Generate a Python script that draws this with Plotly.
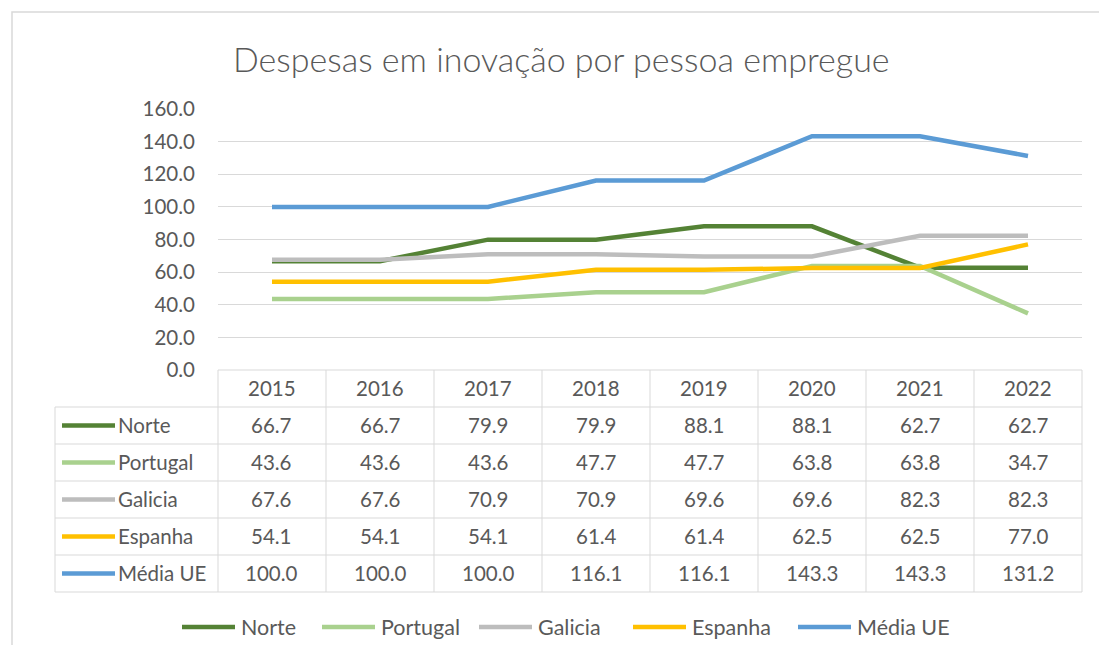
import plotly.graph_objects as go

# Source data: innovation expenditure per employed person
years = ["2015", "2016", "2017", "2018", "2019", "2020", "2021", "2022"]
norte = [66.7, 66.7, 79.9, 79.9, 88.1, 88.1, 62.7, 62.7]
portugal = [43.6, 43.6, 43.6, 47.7, 47.7, 63.8, 63.8, 34.7]
galicia = [67.6, 67.6, 70.9, 70.9, 69.6, 69.6, 82.3, 82.3]
espanha = [54.1, 54.1, 54.1, 61.4, 61.4, 62.5, 62.5, 77.0]
media_ue = [100.0, 100.0, 100.0, 116.1, 116.1, 143.3, 143.3, 131.2]
y_ticks = [0, 20, 40, 60, 80, 100, 120, 140, 160]

series = [
    ("Norte", norte, "#548235"),
    ("Portugal", portugal, "#A9D18E"),
    ("Galicia", galicia, "#BDBDBD"),
    ("Espanha", espanha, "#FFC000"),
    ("Média UE", media_ue, "#5B9BD5"),
]

W, H = 1099, 645
FONT = "Lato"
TXT = "#595959"
GRID = "#D9D9D9"
FS = 20.5

# pixel geometry of the plot area and the data table beneath it
PX_LEFT, PX_RIGHT = 218, 1082          # year columns
PX_LABEL_LEFT = 55                      # start of the series-name column
PX_PLOT_TOP, PX_PLOT_BOTTOM = 109, 370
PX_TABLE_BOTTOM = 592
n = len(years)
col_px = (PX_RIGHT - PX_LEFT) / n
n_rows = len(series) + 1
row_px = (PX_TABLE_BOTTOM - PX_PLOT_BOTTOM) / n_rows

def fx(px):
    return px / W

def fy(px):
    return 1 - px / H

x_idx = list(range(n))
label_left = -0.5 - (PX_LEFT - PX_LABEL_LEFT) / col_px
pad_x, pad_y = 0.06, 0.05
x2_range = [label_left - pad_x, n - 0.5 + pad_x]
x2_dom = [fx(PX_LEFT - (-0.5 - x2_range[0]) * col_px), fx(PX_RIGHT + pad_x * col_px)]
y2_range = [n_rows - 0.5 + pad_y, -0.5 - pad_y]
y2_dom = [fy(PX_TABLE_BOTTOM + pad_y * row_px), fy(PX_PLOT_BOTTOM - pad_y * row_px)]

fig = go.Figure()
for name, vals, color in series:
    fig.add_trace(go.Scatter(
        x=x_idx, y=vals, name=name, mode="lines",
        line=dict(color=color, width=4.5),
        xaxis="x", yaxis="y", showlegend=False,
    ))

shapes = []
annotations = []

# table grid lines
def tline(x0, y0, x1, y1):
    shapes.append(dict(type="line", xref="x2", yref="y2", x0=x0, y0=y0, x1=x1, y1=y1,
                       line=dict(color=GRID, width=1), layer="below"))

tline(-0.5, -0.5, n - 0.5, -0.5)
for r in range(n_rows):
    tline(label_left, r + 0.5, n - 0.5, r + 0.5)
for c in range(n + 1):
    tline(c - 0.5, -0.5, c - 0.5, n_rows - 0.5)
tline(label_left, 0.5, label_left, n_rows - 0.5)

cell_font = dict(family=FONT, size=FS, color=TXT)

# header row of years
for i, yr in enumerate(years):
    annotations.append(dict(xref="x2", yref="y2", x=i, y=0, text=yr, showarrow=False,
                            yshift=1, font=cell_font))

# one row per series: legend key, name and values
key_x0 = label_left + 7 / col_px
key_x1 = label_left + 60 / col_px
for r, (name, vals, color) in enumerate(series, start=1):
    shapes.append(dict(type="line", xref="x2", yref="y2", x0=key_x0, x1=key_x1, y0=r, y1=r,
                       line=dict(color=color, width=4.5)))
    annotations.append(dict(xref="x2", yref="y2", x=key_x1 + 1 / col_px, y=r, text=name,
                            showarrow=False, xanchor="left", yshift=1, font=cell_font))
    for i, v in enumerate(vals):
        annotations.append(dict(xref="x2", yref="y2", x=i, y=r, text=f"{v:.1f}",
                                showarrow=False, yshift=1, font=cell_font))

# legend below the table
legend_starts = [182, 322, 479, 633, 798]
LEG_Y = 627
for (name, vals, color), x0 in zip(series, legend_starts):
    shapes.append(dict(type="line", xref="paper", yref="paper", x0=fx(x0), x1=fx(x0 + 53),
                       y0=fy(LEG_Y), y1=fy(LEG_Y), line=dict(color=color, width=4.5)))
    annotations.append(dict(xref="paper", yref="paper", x=fx(x0 + 57), y=fy(LEG_Y), text=name,
                            showarrow=False, xanchor="left", yanchor="middle",
                            font=dict(family=FONT, size=21.5, color=TXT)))

# chart border
shapes.append(dict(type="rect", xref="paper", yref="paper", x0=fx(12), y0=fy(12), x1=1.02, y1=-0.02,
                   line=dict(color=GRID, width=1.5), layer="below"))

annotations.append(dict(xref="paper", yref="paper", x=fx(561), y=fy(58),
                        text="Despesas em inovação por pessoa empregue",
                        showarrow=False, yanchor="middle",
                        font=dict(family=FONT, size=34, color=TXT, weight=300)))

fig.update_layout(
    width=W, height=H,
    margin=dict(l=0, r=0, t=0, b=0, pad=0),
    paper_bgcolor="white", plot_bgcolor="rgba(0,0,0,0)",
    showlegend=False,
    xaxis=dict(domain=[fx(PX_LEFT), fx(PX_RIGHT)], range=[-0.5, n - 0.5], showgrid=False,
               showticklabels=False, zeroline=False, showline=False, fixedrange=True,
               automargin=False),
    yaxis=dict(domain=[fy(PX_PLOT_BOTTOM), fy(PX_PLOT_TOP)], range=[0, 160], tickvals=y_ticks,
               tickformat=".1f", showgrid=True, gridcolor=GRID, gridwidth=1, zeroline=False,
               showline=False, ticklabelstandoff=22, automargin=False,
               tickfont=dict(family=FONT, size=FS, color=TXT)),
    xaxis2=dict(domain=x2_dom, range=x2_range, anchor="y2", visible=False, automargin=False),
    yaxis2=dict(domain=y2_dom, range=y2_range, anchor="x2", visible=False, automargin=False),
    shapes=shapes,
    annotations=annotations,
)

fig.write_html("out.html")
